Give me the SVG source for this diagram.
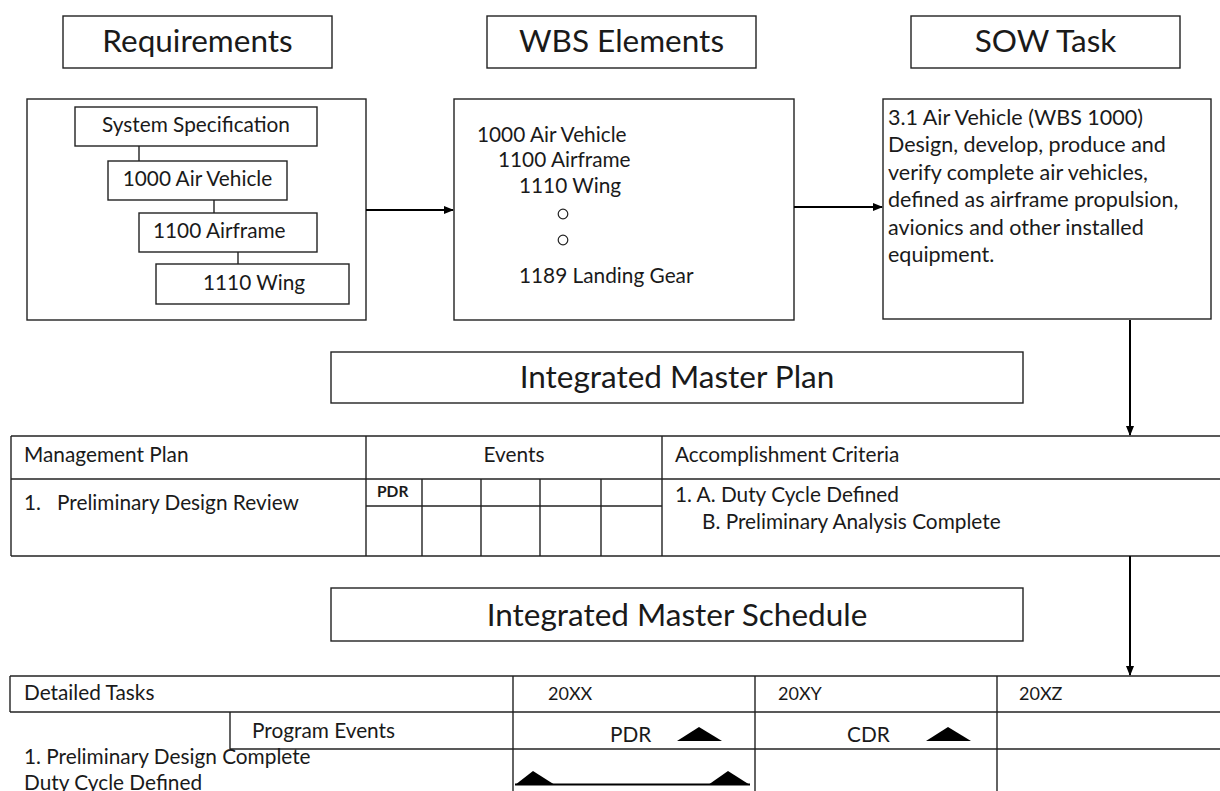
<svg xmlns="http://www.w3.org/2000/svg" width="1220" height="791" viewBox="0 0 1220 791">
<defs>
<style>
text{font-family:Lato,"Liberation Sans",sans-serif;fill:#1a1a1a;}
.t{font-size:31.5px;text-anchor:middle;}
.b{font-size:20.8px;}
.w{font-size:21.5px;}
.c{text-anchor:middle;}
.s{font-size:18px;}
.box{fill:#fff;stroke:#222;stroke-width:1.4;}
.ln{stroke:#222;stroke-width:1.4;fill:none;}
.cn{stroke:#000;stroke-width:2;fill:none;}
.tri{fill:#000;}
</style>
<marker id="ah" markerWidth="10" markerHeight="10" refX="9" refY="5" orient="auto" markerUnits="userSpaceOnUse">
<path d="M0,1 L10,5 L0,9 Z" fill="#000"/>
</marker>
</defs>
<rect width="1220" height="791" fill="#fff"/>

<g id="title-requirements"><rect class="box" x="63" y="16" width="269" height="52"/><text class="t" x="197.5" y="52">Requirements</text></g>
<g id="title-wbs"><rect class="box" x="487" y="16" width="269" height="52"/><text class="t" x="621.5" y="52">WBS Elements</text></g>
<g id="title-sow"><rect class="box" x="911" y="16" width="269" height="52"/><text class="t" x="1045.5" y="52">SOW Task</text></g>

<g id="requirements">
<rect class="box" x="27" y="99" width="339" height="221"/>
<line class="ln" x1="139" y1="146" x2="139" y2="161"/>
<line class="ln" x1="214" y1="200" x2="214" y2="213"/>
<line class="ln" x1="238" y1="252" x2="238" y2="264"/>
<g id="req-system-spec"><rect class="box" x="75" y="107" width="242" height="39"/><text class="b c" x="196" y="132">System Specification</text></g>
<g id="req-air-vehicle"><rect class="box" x="108" y="161" width="179" height="39"/><text class="b c" x="197.5" y="186">1000 Air Vehicle</text></g>
<g id="req-airframe"><rect class="box" x="139" y="213" width="178" height="39"/><text class="b" x="153" y="238">1100 Airframe</text></g>
<g id="req-wing"><rect class="box" x="156" y="264" width="193" height="40"/><text class="b" x="203" y="290">1110 Wing</text></g>
</g>

<g id="wbs">
<rect class="box" x="454" y="99" width="340" height="221"/>
<text class="b" x="477" y="142">1000 Air Vehicle</text>
<text class="b" x="498" y="167">1100 Airframe</text>
<text class="b" x="519" y="193">1110 Wing</text>
<circle cx="563" cy="214" r="4.8" fill="none" stroke="#222" stroke-width="1.2"/>
<circle cx="563" cy="240" r="4.8" fill="none" stroke="#222" stroke-width="1.2"/>
<text class="b" x="519" y="283">1189 Landing Gear</text>
</g>

<g id="sow">
<rect class="box" x="883" y="99" width="328" height="220"/>
<text class="w" x="888" y="125">3.1 Air Vehicle (WBS 1000)</text>
<text class="w" x="888" y="152">Design, develop, produce and</text>
<text class="w" x="888" y="180">verify complete air vehicles,</text>
<text class="w" x="888" y="207">defined as airframe propulsion,</text>
<text class="w" x="888" y="235">avionics and other installed</text>
<text class="w" x="888" y="262">equipment.</text>
</g>

<g id="imp-title"><rect class="box" x="331" y="352" width="692" height="51"/><text class="t" x="677" y="388">Integrated Master Plan</text></g>

<g id="imp-table">
<line class="ln" x1="11" y1="436" x2="1220" y2="436"/>
<line class="ln" x1="11" y1="479" x2="1220" y2="479"/>
<line class="ln" x1="11" y1="556" x2="1220" y2="556"/>
<line class="ln" x1="11" y1="436" x2="11" y2="556"/>
<line class="ln" x1="366" y1="436" x2="366" y2="556"/>
<line class="ln" x1="662" y1="436" x2="662" y2="556"/>
<line class="ln" x1="366" y1="506" x2="662" y2="506"/>
<line class="ln" x1="422" y1="479" x2="422" y2="556"/>
<line class="ln" x1="481" y1="479" x2="481" y2="556"/>
<line class="ln" x1="540" y1="479" x2="540" y2="556"/>
<line class="ln" x1="601" y1="479" x2="601" y2="556"/>
<text class="b" x="24" y="462">Management Plan</text>
<text class="b c" x="514" y="462">Events</text>
<text class="b" x="675" y="462">Accomplishment Criteria</text>
<text class="b" x="24" y="510">1.</text>
<text class="b" x="57" y="510">Preliminary Design Review</text>
<text x="377" y="497" font-size="15.5" font-weight="bold">PDR</text>
<text class="b" x="675" y="502">1. A. Duty Cycle Defined</text>
<text class="b" x="702" y="529">B. Preliminary Analysis Complete</text>
</g>

<g id="ims-title"><rect class="box" x="331" y="588" width="692" height="53"/><text class="t" x="677" y="626">Integrated Master Schedule</text></g>

<g id="ims-table">
<line class="ln" x1="10" y1="676" x2="1220" y2="676"/>
<line class="ln" x1="10" y1="712" x2="1220" y2="712"/>
<line class="ln" x1="230" y1="749" x2="1220" y2="749"/>
<line class="ln" x1="10" y1="676" x2="10" y2="712"/>
<line class="ln" x1="230" y1="712" x2="230" y2="749"/>
<line class="ln" x1="513" y1="676" x2="513" y2="791"/>
<line class="ln" x1="755" y1="676" x2="755" y2="791"/>
<line class="ln" x1="997" y1="676" x2="997" y2="791"/>
<text class="b" x="24" y="700">Detailed Tasks</text>
<text class="s" x="548" y="700">20XX</text>
<text class="s" x="778" y="700">20XY</text>
<text class="s" x="1019" y="700">20XZ</text>
<text class="b" x="252" y="738">Program Events</text>
<text class="b" x="610" y="742">PDR</text>
<polygon class="tri" points="677,741 699,727 722,741"/>
<text class="b" x="847" y="742">CDR</text>
<polygon class="tri" points="926,741 948,727 971,741"/>
<text class="b" x="24" y="764">1. Preliminary Design Complete</text>
<text class="b" x="24" y="790">Duty Cycle Defined</text>
<polygon class="tri" points="515,785 533,771 555,785"/>
<polygon class="tri" points="708,785 728,771 750,785"/>
<line x1="515" y1="784.5" x2="750" y2="784.5" stroke="#000" stroke-width="2"/>
</g>

<g id="connectors">
<line class="cn" x1="366" y1="210" x2="453" y2="210" marker-end="url(#ah)"/>
<line class="cn" x1="794" y1="207" x2="882" y2="207" marker-end="url(#ah)"/>
<line class="cn" x1="1130" y1="320" x2="1130" y2="435" marker-end="url(#ah)"/>
<line class="cn" x1="1130" y1="556" x2="1130" y2="675" marker-end="url(#ah)"/>
</g>
</svg>
